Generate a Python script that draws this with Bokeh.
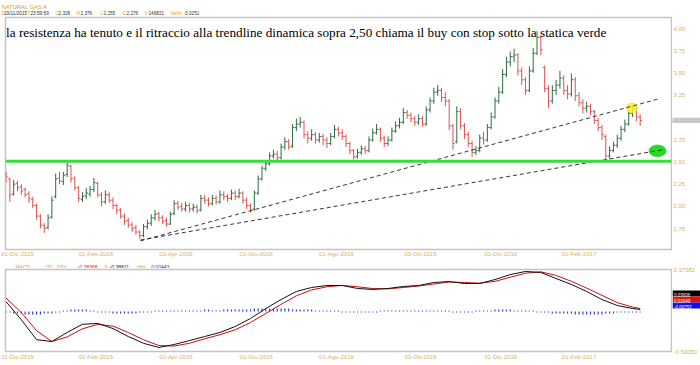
from bokeh.plotting import figure
from bokeh.models import ColumnDataSource, FixedTicker, Label, Range1d, Span
from bokeh.layouts import column, row
from bokeh.embed import file_html
from bokeh.resources import INLINE
from bokeh.core.properties import value

# ---------------- data ----------------
opens = [2.36,2.30,2.13,2.25,2.21,2.18,2.13,2.07,2.00,1.88,
 1.77,1.75,1.87,2.10,2.31,2.27,2.35,2.44,2.31,2.20,
 2.07,2.11,2.13,2.18,2.25,2.12,2.04,2.12,2.06,2.00,
 1.95,1.88,1.83,1.78,1.75,1.70,1.66,1.76,1.80,1.86,
 1.91,1.86,1.83,1.79,1.91,2.02,1.99,1.96,2.00,1.96,
 1.98,1.95,2.08,2.06,2.02,2.08,2.04,2.12,2.10,2.08,
 2.14,2.10,2.14,2.06,2.00,1.96,2.14,2.30,2.42,2.47,
 2.56,2.58,2.54,2.66,2.72,2.67,2.88,2.92,2.94,2.80,
 2.76,2.80,2.74,2.78,2.74,2.70,2.78,2.86,2.82,2.78,
 2.70,2.62,2.55,2.60,2.64,2.62,2.74,2.82,2.86,2.76,
 2.70,2.74,2.84,2.90,2.94,3.05,3.02,2.98,2.94,2.98,
 2.92,3.08,3.18,3.28,3.30,3.22,3.18,2.90,2.72,3.06,
 2.90,2.80,2.70,2.60,2.62,2.76,2.74,2.88,3.00,3.18,
 3.28,3.48,3.62,3.68,3.70,3.52,3.42,3.30,3.52,3.72,
 3.90,3.56,3.32,3.18,3.30,3.36,3.44,3.30,3.26,3.42,
 3.24,3.16,3.10,3.12,3.06,2.96,2.88,2.78,2.56,2.62,
 2.68,2.76,2.86,2.92,3.04,3.08,3.00]
highs = [2.38,2.31,2.29,2.28,2.24,2.20,2.16,2.10,2.02,1.90,
 1.80,1.90,2.10,2.36,2.38,2.38,2.50,2.46,2.33,2.22,
 2.15,2.20,2.22,2.31,2.27,2.15,2.17,2.15,2.09,2.02,
 1.97,1.91,1.86,1.81,1.78,1.72,1.79,1.84,1.90,1.95,
 1.93,1.89,1.86,1.93,2.06,2.05,2.03,2.04,2.03,2.02,
 2.01,2.12,2.12,2.09,2.12,2.11,2.17,2.16,2.13,2.18,
 2.17,2.19,2.16,2.09,2.02,2.17,2.34,2.45,2.51,2.60,
 2.63,2.62,2.70,2.77,2.75,2.92,2.98,3.00,2.96,2.84,
 2.86,2.83,2.82,2.81,2.77,2.82,2.91,2.89,2.86,2.80,
 2.72,2.64,2.64,2.68,2.67,2.78,2.87,2.92,2.88,2.79,
 2.78,2.88,2.95,2.99,3.10,3.08,3.05,3.01,3.03,3.01,
 3.12,3.22,3.33,3.36,3.33,3.28,3.20,2.92,3.12,3.10,
 2.93,2.83,2.73,2.67,2.80,2.83,2.92,3.05,3.22,3.34,
 3.54,3.68,3.74,3.77,3.72,3.56,3.45,3.57,3.78,3.97,
 3.92,3.58,3.36,3.36,3.42,3.52,3.47,3.36,3.49,3.45,
 3.28,3.20,3.17,3.15,3.08,2.99,2.91,2.80,2.67,2.72,
 2.80,2.90,2.97,3.08,3.14,3.10,3.03]
lows = [2.26,2.04,2.11,2.16,2.12,2.09,2.03,1.97,1.84,1.74,
 1.69,1.73,1.85,2.08,2.24,2.23,2.32,2.26,2.17,2.04,
 2.04,2.07,2.10,2.15,2.09,1.99,2.02,2.03,1.96,1.90,
 1.85,1.78,1.75,1.70,1.67,1.62,1.64,1.73,1.77,1.83,
 1.82,1.79,1.76,1.78,1.89,1.95,1.93,1.93,1.92,1.93,
 1.91,1.93,2.02,1.99,2.00,2.01,2.02,2.06,2.04,2.06,
 2.06,2.08,2.02,1.96,1.92,1.94,2.12,2.28,2.39,2.45,
 2.53,2.51,2.52,2.63,2.63,2.65,2.84,2.88,2.76,2.70,
 2.73,2.70,2.71,2.68,2.65,2.68,2.76,2.78,2.74,2.66,
 2.58,2.52,2.53,2.57,2.58,2.60,2.72,2.80,2.72,2.66,
 2.67,2.72,2.82,2.87,2.92,2.98,2.94,2.90,2.91,2.89,
 2.90,3.05,3.15,3.24,3.17,3.12,2.85,2.63,2.70,2.86,
 2.75,2.66,2.55,2.57,2.60,2.69,2.72,2.86,2.98,3.15,
 3.26,3.45,3.57,3.62,3.47,3.36,3.25,3.28,3.50,3.70,
 3.70,3.28,3.10,3.15,3.25,3.32,3.25,3.20,3.23,3.18,
 3.12,3.04,3.05,3.02,2.92,2.84,2.74,2.51,2.53,2.60,
 2.65,2.73,2.83,2.90,3.00,2.95,2.90]
closes = [2.33,2.12,2.24,2.20,2.16,2.12,2.08,2.00,1.88,1.78,
 1.74,1.86,2.06,2.30,2.28,2.34,2.45,2.30,2.20,2.08,
 2.10,2.14,2.18,2.26,2.12,2.04,2.12,2.06,2.00,1.94,
 1.88,1.82,1.78,1.74,1.70,1.66,1.76,1.80,1.86,1.90,
 1.86,1.82,1.79,1.90,2.02,1.98,1.96,2.00,1.96,1.98,
 1.94,2.08,2.06,2.02,2.08,2.04,2.12,2.10,2.08,2.14,
 2.10,2.14,2.06,2.00,1.95,2.14,2.30,2.42,2.47,2.56,
 2.58,2.54,2.66,2.72,2.66,2.88,2.92,2.94,2.80,2.76,
 2.80,2.74,2.78,2.74,2.70,2.78,2.86,2.82,2.78,2.70,
 2.62,2.55,2.60,2.64,2.62,2.74,2.82,2.86,2.76,2.70,
 2.74,2.84,2.90,2.94,3.05,3.02,2.98,2.94,2.98,2.92,
 3.08,3.18,3.28,3.30,3.22,3.18,2.90,2.70,3.06,2.90,
 2.80,2.70,2.60,2.62,2.76,2.74,2.88,3.00,3.18,3.28,
 3.48,3.62,3.68,3.70,3.52,3.42,3.30,3.52,3.72,3.90,
 3.76,3.32,3.18,3.30,3.36,3.44,3.30,3.26,3.42,3.24,
 3.16,3.10,3.12,3.06,2.96,2.88,2.80,2.56,2.62,2.68,
 2.76,2.86,2.92,3.04,3.10,3.00,2.96]

# MACD (sampled every 4 bars, last bar appended)
macd_vals = [0.02,-0.18,-0.40,-0.42,-0.32,-0.23,-0.22,-0.277,-0.365,-0.44,-0.486,-0.453,
 -0.41,-0.365,-0.32,-0.254,-0.166,-0.055,0.044,0.133,0.177,0.199,0.199,0.166,0.155,0.166,
 0.188,0.199,0.232,0.243,0.221,0.221,0.265,0.32,0.354,0.343,0.276,0.21,0.133,0.044,
 -0.022,-0.055,-0.066]
signal_vals = [0.06,-0.10,-0.30,-0.42,-0.37,-0.28,-0.23,-0.25,-0.32,-0.40,-0.465,-0.47,
 -0.44,-0.39,-0.345,-0.29,-0.21,-0.11,-0.01,0.085,0.15,0.185,0.20,0.185,0.165,0.162,
 0.177,0.193,0.215,0.238,0.232,0.225,0.245,0.29,0.335,0.35,0.31,0.245,0.17,0.09,
 0.01,-0.04,-0.055]
hist_vals = [-0.01,-0.01,-0.02,-0.02,-0.02,-0.03,-0.03,-0.03,-0.03,-0.03,-0.02,-0.02,-0.02,-0.01,-0.01,0.01,
 0.01,0.02,0.02,0.02,0.02,0.02,0.01,0.01,-0.01,-0.01,-0.01,-0.01,-0.02,-0.02,-0.02,-0.02,
 -0.02,-0.02,-0.02,-0.01,-0.01,-0.01,-0.01,0.01,0.01,0.01,0.01,0.01,0.01,0.01,0.01,0.01,
 0.01,0.01,0.01,0.01,0.02,0.02,0.01,0.01,0.01,0.02,0.02,0.02,0.02,0.02,0.02,0.02,
 0.02,0.03,0.03,0.03,0.03,0.03,0.03,0.03,0.03,0.03,0.03,0.02,0.02,0.02,0.02,0.02,
 0.02,0.01,0.01,0.01,0.01,0.01,0.01,0.01,-0.01,-0.01,-0.01,-0.01,-0.01,-0.01,-0.01,-0.01,
 -0.01,-0.01,0.01,0.01,0.01,0.01,0.01,0.01,0.01,0.01,0.01,0.01,0.01,0.01,0.01,0.01,
 0.01,0.01,0.01,0.01,0.01,-0.01,-0.01,-0.01,-0.01,-0.01,-0.01,0.01,0.01,0.01,0.01,0.01,
 0.02,0.02,0.02,0.02,0.02,0.01,0.01,0.01,0.01,0.01,0.01,-0.01,-0.01,-0.01,-0.01,-0.02,
 -0.02,-0.02,-0.02,-0.02,-0.02,-0.03,-0.03,-0.03,-0.03,-0.03,-0.03,-0.03,-0.03,-0.02,-0.02,-0.02,
 -0.01,-0.01,-0.01,-0.01,-0.01,-0.01,-0.01]

tick_days = [0, 41, 83, 125, 167, 211, 253, 294]
tick_labels = ["01-Dic-2015", "01-Feb-2016", "01-Apr-2016", "01-Giu-2016",
               "01-Ago-2016", "03-Ott-2016", "01-Dic-2016", "01-Feb-2017"]
price_ticks_upper = [3.25, 3.5, 3.75, 4.0]
price_labels_upper = ["3,25", "3,50", "3,75", "4,00"]
price_ticks_lower = [1.75, 2.0, 2.25, 2.5, 2.75]
price_labels_lower = ["1,75", "2,00", "2,25", "2,50", "2,75"]
macd_top, macd_bottom = 0.37582, -0.5305
macd_top_label, macd_bottom_label = "0,37582", "-0,53050"

support_level = 2.50
trend_upper_days = [64.4, 335.0]
trend_upper_prices = [1.60, 3.20]
trend_lower_days = [64.4, 338.0]
trend_lower_prices = [1.61, 2.63]
last_price_label = "2,962"

title_text = ("la resistenza ha tenuto e il ritraccio alla trendline dinamica sopra 2,50 "
              "chiama il buy con stop sotto la statica verde")
header_name = "NATURAL GAS A"
header_items = [("D", "19/11/2015"), ("T", "23:59:59"), ("O", "2,328"), ("H", "2,376"),
                ("L", "2,255"), ("C", "2,276"), ("V", "146821"), ("Var%", "-3,0251")]
macd_header = [("MACD", "key"), ("(32 , 200)", "key"), ("-0,38368", "red"), ("9", "key"),
               ("-0,38811", "dark"), ("Hist", "key"), ("0,00443", "blue")]
macd_tag_texts = ["0,03606", "0,02649", "-0,00757"]
macd_tag_colors = ["#000000", "#e01010", "#1010e0"]

# ---------------- layout constants (pixels) ----------------
W = 700
RW = 28                     # right label strip
MW = W - RW                 # main panel width 672
LB, RB = 5, 1
FW = MW - LB - RB           # 666
HDR_H = 16
H1, TB1, BB1 = 243, 1, 9    # frame 233 (y 17..250)
MH_H = 9
H2, TB2, BB2 = 97, 1, 14    # frame 82 (y 269..351)
FH1 = H1 - TB1 - BB1
FH2 = H2 - TB2 - BB2
PX_PER_DAY = 1.91
X0 = -(17 - LB) / PX_PER_DAY
X1 = X0 + FW / PX_PER_DAY
PX_PER_PRICE = 88.89
F1_TOP = HDR_H + TB1
Y1 = 4.0 + (28 - F1_TOP) / PX_PER_PRICE
Y0 = Y1 - FH1 / PX_PER_PRICE
M_ROW_TOP = HDR_H + H1
M_ROW_H = MH_H + H2
F2_TOP = M_ROW_TOP + MH_H + TB2
MACD_PER_PX = (macd_top - macd_bottom) / FH2

AXIS_COL = "#d6b35a"
KEY_COL = "#e09a28"
SANS = "Liberation Sans"
COLS = {"key": KEY_COL, "red": "#dd2020", "dark": "#222222", "blue": "#2233cc"}


def price_at(y):
    return Y1 - (y - F1_TOP) / PX_PER_PRICE


def macd_at(y):
    return macd_top - (y - F2_TOP) * MACD_PER_PX


def style_axis(ax):
    ax.axis_line_color = None
    ax.major_tick_line_color = None
    ax.minor_tick_line_color = None
    ax.major_tick_out = 0
    ax.major_tick_in = 0
    ax.minor_tick_out = 0
    ax.minor_tick_in = 0
    ax.major_label_text_color = AXIS_COL
    ax.major_label_text_font = SANS
    ax.major_label_text_font_size = "6px"


def main_fig(h, tb, bb, yr):
    p = figure(width=MW, height=h, x_range=Range1d(X0, X1),
               y_range=yr, min_border_left=LB, min_border_right=RB, min_border_top=tb,
               min_border_bottom=bb, y_axis_location=None,
               output_backend="svg", toolbar_location=None)
    p.xgrid.visible = False
    p.ygrid.visible = False
    p.outline_line_color = "#c4c4c4"
    p.outline_line_width = 1.5
    style_axis(p.xaxis[0])
    p.xaxis.ticker = FixedTicker(ticks=tick_days)
    p.xaxis.major_label_overrides = dict(zip(tick_days, tick_labels))
    p.xaxis.major_label_standoff = 1
    return p


def axis_strip(h, top_px, bottom_px, ticks, labels, value_at, bb=0):
    """Narrow strip holding a native right axis for part of a panel's height."""
    f = figure(width=RW, height=h, x_range=Range1d(0, 1),
               y_range=Range1d(value_at(bottom_px), value_at(top_px)),
               min_border_left=0, min_border_right=RW - 1, min_border_top=0,
               min_border_bottom=bb, x_axis_location=None, y_axis_location="right",
               output_backend="svg", toolbar_location=None)
    f.outline_line_color = None
    f.xgrid.visible = False
    f.ygrid.visible = False
    style_axis(f.yaxis[0])
    f.yaxis.major_label_standoff = 0
    f.yaxis.ticker = FixedTicker(ticks=ticks)
    f.yaxis.major_label_overrides = dict(zip(ticks, labels))
    return f


def strip_fig(h, w, bg="white", yr=None):
    f = figure(width=w, height=h, x_range=Range1d(0, w),
               y_range=yr if yr is not None else Range1d(0, h),
               min_border=0, min_border_left=0, min_border_right=0,
               min_border_top=0, min_border_bottom=0,
               x_axis_type=None, y_axis_type=None,
               output_backend="svg", toolbar_location=None)
    f.outline_line_color = None
    f.background_fill_color = bg
    f.border_fill_color = bg
    return f


# ---------------- header strip ----------------
hdr = strip_fig(HDR_H, W)
hdr.text(x=[1], y=[HDR_H - 6.2], text=[header_name], text_color=KEY_COL,
         text_font=value(SANS), text_font_size="5.8px", text_baseline="alphabetic")
key_x = [1, 27, 55, 76, 100, 122, 144, 170]
val_x = [3.5, 30, 58, 80, 103, 126, 148, 183]
hdr.text(x=key_x, y=[HDR_H - 12.8] * len(key_x), text=[k for k, v in header_items],
         text_color=KEY_COL, text_font=value(SANS), text_font_size="4.7px",
         text_baseline="alphabetic")
hdr.text(x=val_x, y=[HDR_H - 12.8] * len(val_x), text=[v for k, v in header_items],
         text_color="#333333", text_font=value(SANS), text_font_size="4.7px",
         text_baseline="alphabetic")

# ---------------- price panel ----------------
n = len(closes)
bar_days = [-6 + 2 * i for i in range(n)]
up = [c >= o for o, c in zip(opens, closes)]
src = ColumnDataSource(dict(
    x=bar_days, xl=[d - 0.9 for d in bar_days], xr=[d + 0.9 for d in bar_days],
    o=opens, h=highs, l=lows, c=closes,
    col=["#2f6b45" if u else "#e2504f" for u in up]))

p1 = main_fig(H1, TB1, BB1, Range1d(Y0, Y1))
p1.segment(x0="x", y0="l", x1="x", y1="h", color="col", line_width=1, source=src)
p1.segment(x0="xl", y0="o", x1="x", y1="o", color="col", line_width=1, source=src)
p1.segment(x0="x", y0="c", x1="xr", y1="c", color="col", line_width=1, source=src)

p1.add_layout(Span(location=support_level, dimension="width",
                   line_color="#35e035", line_width=3))

p1.ellipse(x=[321.7], y=[3.10], width=5.8, height=0.115,
           fill_color="#fff030", fill_alpha=0.85, line_color="#e8d020", line_width=0.5)
p1.ellipse(x=[335.1], y=[2.617], width=9.0, height=0.135,
           fill_color="#22dd22", line_color="#1bbf1b", line_width=0.5)

p1.line(trend_upper_days, trend_upper_prices, line_color="#202020",
        line_dash="4 3", line_width=0.9)
p1.line(trend_lower_days, trend_lower_prices, line_color="#202020",
        line_dash="4 3", line_width=0.9)

p1.add_layout(Label(x=X0 + 0.6 / PX_PER_DAY, y=Y1 - 15 / PX_PER_PRICE, text=title_text,
                    text_color="#000000", text_font="Liberation Serif",
                    text_font_size="13.2px", text_baseline="alphabetic"))

# right strip of the price panel: axis / price tag / axis
TAG1_TOP, TAG1_H = 114, 9
a1 = axis_strip(TAG1_TOP - HDR_H, HDR_H, TAG1_TOP, price_ticks_upper,
                price_labels_upper, price_at)
t1 = strip_fig(TAG1_H, RW, "#c8c8c8")
t1.text(x=[1.5], y=[3.6], text=[last_price_label], text_color="#222222",
        text_font=value(SANS), text_font_size="5px", text_baseline="alphabetic")
a2_top = TAG1_TOP + TAG1_H
a2 = axis_strip(HDR_H + H1 - a2_top, a2_top, F1_TOP + FH1, price_ticks_lower,
                price_labels_lower, price_at, bb=BB1)

# ---------------- MACD header strip ----------------
mh = strip_fig(MH_H, MW)
mh_x = [10, 40, 73, 100, 105, 133, 147]
mh.text(x=mh_x, y=[5.0] * len(mh_x), text=[t for t, c in macd_header],
        text_color=[COLS[c] for t, c in macd_header], text_font=value(SANS),
        text_font_size="5px", text_baseline="alphabetic")

# ---------------- MACD panel ----------------
macd_idx = list(range(0, n - 1, 4)) + [n - 1]
macd_days = [bar_days[i] for i in macd_idx]

p2 = main_fig(H2, TB2, BB2, Range1d(macd_bottom, macd_top))
p2.x_range = p1.x_range
p2.xaxis.major_label_standoff = 2
p2.extra_y_ranges = {"hist": Range1d(-0.39, 0.41)}
p2.vbar(x=bar_days, top=hist_vals, bottom=0, width=0.6, fill_color="#2233ee",
        line_color=None, y_range_name="hist")
p2.line(macd_days, signal_vals, line_color="#c81010", line_width=1)
p2.line(macd_days, macd_vals, line_color="#111111", line_width=1)

# right strip of the MACD panel (one figure on the MACD value scale)
TAGS_TOP, TAG_H = 290, 6
NT = len(macd_tag_texts)
bR = strip_fig(M_ROW_H, RW, yr=Range1d(macd_at(M_ROW_TOP + M_ROW_H), macd_at(M_ROW_TOP)))
bR.text(x=[1, 1], y=[macd_top, macd_bottom], text=[macd_top_label, macd_bottom_label],
        text_color=AXIS_COL, text_font=value(SANS), text_font_size="6px",
        text_baseline="middle")
tag_tops = [macd_at(TAGS_TOP + TAG_H * k) for k in range(NT)]
tag_bottoms = [macd_at(TAGS_TOP + TAG_H * (k + 1)) for k in range(NT)]
bR.quad(left=[0] * NT, right=[RW] * NT, top=tag_tops, bottom=tag_bottoms,
        fill_color=macd_tag_colors, line_color=None)
bR.text(x=[1.5] * NT, y=[macd_at(TAGS_TOP + TAG_H * k + 4.6) for k in range(NT)],
        text=macd_tag_texts, text_color="#ffffff", text_font=value(SANS),
        text_font_size="4.5px", text_baseline="alphabetic")

layout = column(
    hdr,
    row(p1, column(a1, t1, a2, spacing=0), spacing=0),
    row(column(mh, p2, spacing=0), bR, spacing=0),
    spacing=0)
open("out.html", "w").write(file_html(layout, INLINE))
